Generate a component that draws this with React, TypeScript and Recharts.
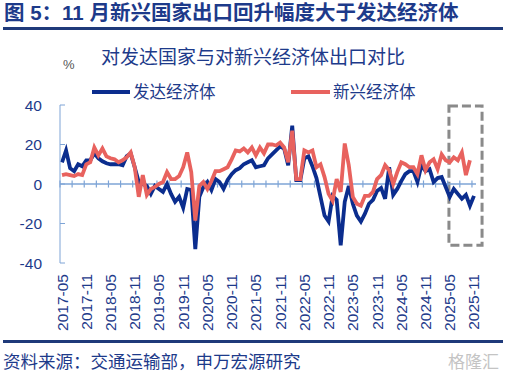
import React from "react";
import {
  LineChart,
  Line,
  XAxis,
  YAxis,
  ReferenceLine,
  ReferenceArea,
} from "recharts";

// monthly, 2017-05 .. 2025-11
const START_YEAR = 2017;
const START_MONTH = 5;
const N = 103;
const months: string[] = Array.from({ length: N }, (_, k) => {
  const m = START_MONTH - 1 + k;
  const y = START_YEAR + Math.floor(m / 12);
  const mm = (m % 12) + 1;
  return `${y}-${mm < 10 ? "0" + mm : mm}`;
});

// 发达经济体 (%)
const developed = [
  11, 17, 8, 6.5, 10, 9, 12, 12, 15.5, 13, 11.5, 10.5, 10, 10, 10, 9.5, 14, 15.5, 8.5, 1,
  0, -1, -5, -1, -2.5, -4, 0, -5, -9, -6.5, -12, -2.5, -3, -33, -6.5, -1.5, 1, -3, 2.5, 1,
  -2.5, 2, 5, 7, 8, 10, 11, 12, 8.5, 9, 9.5, 13, 15, 17, 19, 18, 9.5, 29.5, 2, 2,
  13, 14, 9, 3, -6.5, -16, -19, -6, -8, -31, -9, -1, -10, -16, -19, -15, -10, -8, -3.5, -2,
  -7.5, 8.5, -5.5, -2.5, 1.5, 5, 6.5, 6.5, 1, 9.5, 6.5, 7.5, 1, 3, 3.5, -1.5, -6.5, -2.5, -5, -7.5,
  -5.5, -11, -6,
];

// 新兴经济体 (%)
const emerging = [
  4.5, 5, 4.5, 4, 5, 4.5, 10, 11, 18.5, 14.5, 18, 14, 13, 12.5, 11, 12, 13.5, 16, 8.5, -6.5,
  4.5, -5.5, -2.5, -1.5, 0, 1, 6, 2.5, 2.5, 4, 8.5, 16, 6, -18.5, -1, 1, -2.5, 1.5, 6.5, 6.5,
  7.5, 8.5, 12.5, 17, 16.5, 18, 16, 18.5, 14.5, 18.5, 15.5, 20, 20, 19.5, 21, 18.5, 11, 27, 2.5, 2.5,
  17, 16, 17, 8.5, 10, 3.5, -5, -8.5, 2.5, -4, 20.5, 9.5, -6.5, -10, -11, -6, -6, -4, 2.5, 4.5,
  9.5, 7, 0, 6, 11, 10, 8.5, 8.5, 5, 14.5, 7, 11, 12.5, 7.5, 15, 12, 11, 13.5, 12, 16,
  4.5, 12,
];

const yTicks = [-40, -20, 0, 20, 40];
const labelEvery = 6;
const tickEvery = 3;

const data = months.map((m, i) => ({
  i,
  month: m,
  developed: developed[i],
  emerging: emerging[i],
}));

const labelTicks = months.map((_, i) => i).filter((i) => i % labelEvery === 0);
const zeroTicks = Array.from(
  { length: Math.floor(N / tickEvery) + 1 },
  (_, k) => k * tickEvery - 0.5
);

const NAVY = "#1d3a8a";
const BLUE = "#0b2d8e";
const RED = "#e8625e";
const AXIS = "#7ea4d6";
const FONT = '"Liberation Sans", Arial, "Noto Sans CJK SC", sans-serif';

const XTick = (props: any) => {
  const { x, y, payload } = props;
  return (
    <text
      x={x}
      y={y}
      transform={`rotate(-90 ${x} ${y})`}
      textAnchor="end"
      dominantBaseline="central"
      fontSize={15.5}
      fill={NAVY}
      fontFamily={FONT}
    >
      {months[payload.value]}
    </text>
  );
};

export default function App() {
  return (
    <div
      style={{
        position: "absolute",
        left: 0,
        top: 0,
        width: 508,
        height: 377,
        background: "#fff",
        fontFamily: FONT,
        overflow: "hidden",
      }}
    >
      <div
        style={{
          position: "absolute",
          left: 4,
          top: 2,
          fontSize: 20.5,
          fontWeight: "bold",
          color: NAVY,
          whiteSpace: "nowrap",
          lineHeight: "22px",
        }}
      >
        图 5：11 月新兴国家出口回升幅度大于发达经济体
      </div>
      <div
        style={{
          position: "absolute",
          left: 3,
          top: 27,
          width: 500,
          height: 2.5,
          background: "#1f3a7a",
        }}
      />

      <LineChart
        width={508}
        height={377}
        data={data}
        margin={{ top: 105, right: 32, left: 0, bottom: 44 }}
        style={{ position: "absolute", left: 0, top: 0 }}
      >
        <YAxis
          type="number"
          domain={[-40, 40]}
          ticks={yTicks}
          interval={0}
          width={60}
          stroke={AXIS}
          tickSize={-5}
          tickMargin={23}
          tick={{ fill: NAVY, fontSize: 15.5, fontFamily: FONT }}
        />
        <XAxis
          dataKey="i"
          type="number"
          domain={[-0.5, N - 0.5]}
          ticks={labelTicks}
          interval={0}
          height={70}
          axisLine={false}
          tickLine={false}
          tickSize={0}
          tickMargin={11}
          tick={<XTick />}
        />
        <ReferenceLine y={0} stroke={AXIS} strokeWidth={1.5} />
        {zeroTicks.map((t) => (
          <ReferenceLine
            key={t}
            segment={[
              { x: t, y: -1.8 },
              { x: t, y: 1.8 },
            ]}
            stroke={AXIS}
            strokeWidth={1.2}
          />
        ))}
        <ReferenceArea
          x1={95.8}
          x2={104}
          y1={-31}
          y2={39.5}
          fill="none"
          stroke="#8a8a8a"
          strokeWidth={3}
          strokeDasharray="9 4"
          ifOverflow="visible"
        />
        <Line
          type="linear"
          dataKey="developed"
          stroke={BLUE}
          strokeWidth={3.8}
          dot={false}
          isAnimationActive={false}
        />
        <Line
          type="linear"
          dataKey="emerging"
          stroke={RED}
          strokeWidth={3.8}
          dot={false}
          isAnimationActive={false}
        />
      </LineChart>

      <div
        style={{
          position: "absolute",
          left: 101,
          top: 47,
          fontSize: 19,
          color: NAVY,
          whiteSpace: "nowrap",
          lineHeight: "22px",
        }}
      >
        对发达国家与对新兴经济体出口对比
      </div>
      <div
        style={{
          position: "absolute",
          left: 63,
          top: 57,
          fontSize: 13,
          color: "#555",
          lineHeight: "16px",
        }}
      >
        %
      </div>

      {/* legend */}
      <div style={{ position: "absolute", left: 92, top: 90, width: 38, height: 4, background: BLUE }} />
      <div
        style={{
          position: "absolute",
          left: 133,
          top: 82,
          fontSize: 16.5,
          color: NAVY,
          whiteSpace: "nowrap",
          lineHeight: "20px",
        }}
      >
        发达经济体
      </div>
      <div style={{ position: "absolute", left: 291, top: 90, width: 39, height: 4, background: RED }} />
      <div
        style={{
          position: "absolute",
          left: 333,
          top: 82,
          fontSize: 16.5,
          color: NAVY,
          whiteSpace: "nowrap",
          lineHeight: "20px",
        }}
      >
        新兴经济体
      </div>

      <div
        style={{
          position: "absolute",
          left: 3,
          top: 340,
          width: 500,
          height: 2.5,
          background: "#1f3a7a",
        }}
      />
      <div
        style={{
          position: "absolute",
          left: 3,
          top: 351,
          fontSize: 17.5,
          color: NAVY,
          whiteSpace: "nowrap",
          lineHeight: "22px",
        }}
      >
        资料来源：交通运输部，申万宏源研究
      </div>
      <div
        style={{
          position: "absolute",
          left: 448,
          top: 352,
          fontSize: 17,
          color: "#c4c4c4",
          whiteSpace: "nowrap",
          lineHeight: "22px",
        }}
      >
        格隆汇
      </div>
    </div>
  );
}
